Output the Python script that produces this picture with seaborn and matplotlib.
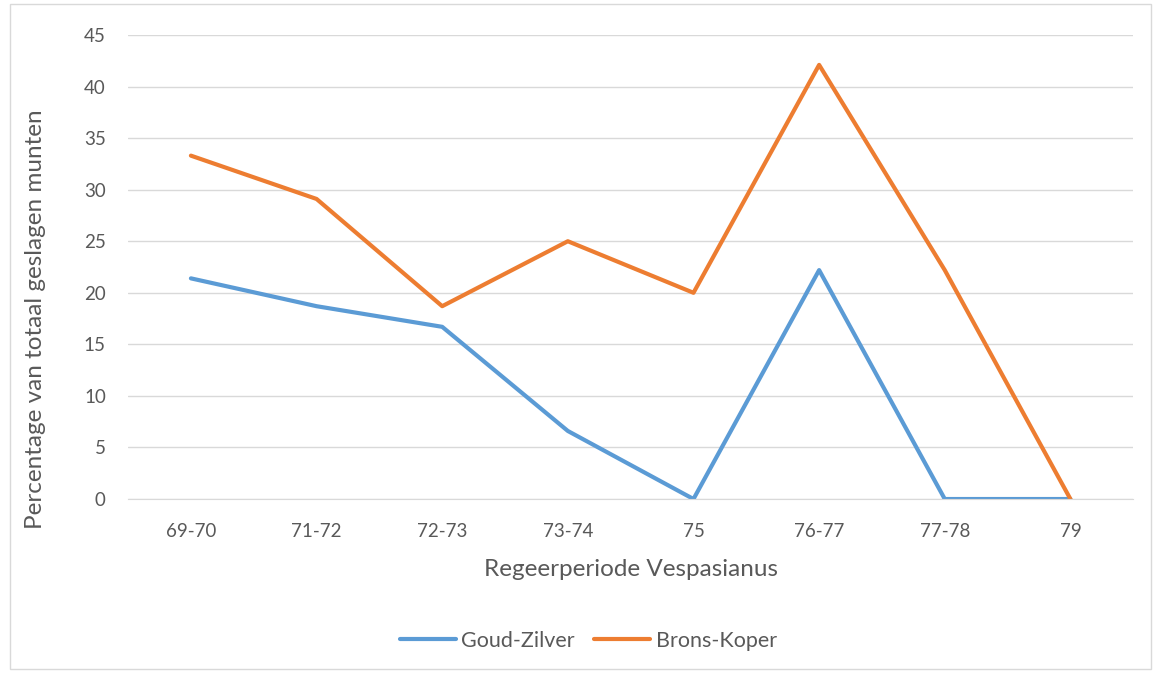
import pandas as pd
import matplotlib.pyplot as plt
import seaborn as sns
from matplotlib.patches import Rectangle

# --- data ---
periods = ["69-70", "71-72", "72-73", "73-74", "75", "76-77", "77-78", "79"]
goud_zilver = [21.4, 18.7, 16.7, 6.6, 0, 22.2, 0, 0]
brons_koper = [33.3, 29.1, 18.7, 25.0, 20.0, 42.1, 22.2, 0]

df = pd.DataFrame({
    "periode": periods * 2,
    "pct": goud_zilver + brons_koper,
    "soort": ["Goud-Zilver"] * len(periods) + ["Brons-Koper"] * len(periods),
})

sns.set_style("white")
plt.rcParams["font.family"] = ["Lato", "DejaVu Sans"]

fig = plt.figure(figsize=(11.54, 6.73), dpi=100)
ax = fig.add_axes([0.111, 0.2585, 0.871, 0.6895])

sns.lineplot(data=df, x="periode", y="pct", hue="soort", sort=False,
             palette={"Goud-Zilver": "#5B9BD5", "Brons-Koper": "#ED7D31"},
             linewidth=3, ax=ax, legend=True)

ax.set_xlim(-0.5, len(periods) - 0.5)
ax.set_ylim(0, 45)
ax.set_yticks(range(0, 46, 5))
ax.yaxis.grid(True, color="#D9D9D9", linewidth=1)
ax.set_axisbelow(True)
for s in ["top", "right", "left"]:
    ax.spines[s].set_visible(False)
ax.spines["bottom"].set_color("#D9D9D9")
ax.tick_params(axis="both", length=0, labelsize=13.5, colors="#595959")
ax.tick_params(axis="x", pad=17)
ax.tick_params(axis="y", pad=16)
ax.set_xlabel("Regeerperiode Vespasianus", fontsize=17.5, color="#595959", labelpad=14)
ax.set_ylabel("Percentage van totaal geslagen munten", fontsize=17.5, color="#595959")
ax.yaxis.set_label_coords(-0.082, 0.387)

ax.legend(loc="center", bbox_to_anchor=(0.458, -0.305), ncol=2, frameon=False,
          fontsize=15.5, labelcolor="#595959", handlelength=2.6, handletextpad=0.25,
          columnspacing=0.9, title=None)

fig.patches.append(Rectangle((0.009, 0.006), 0.988, 0.988, transform=fig.transFigure,
                             fill=False, edgecolor="#D9D9D9", linewidth=1))

plt.savefig("out.png", dpi=100)
